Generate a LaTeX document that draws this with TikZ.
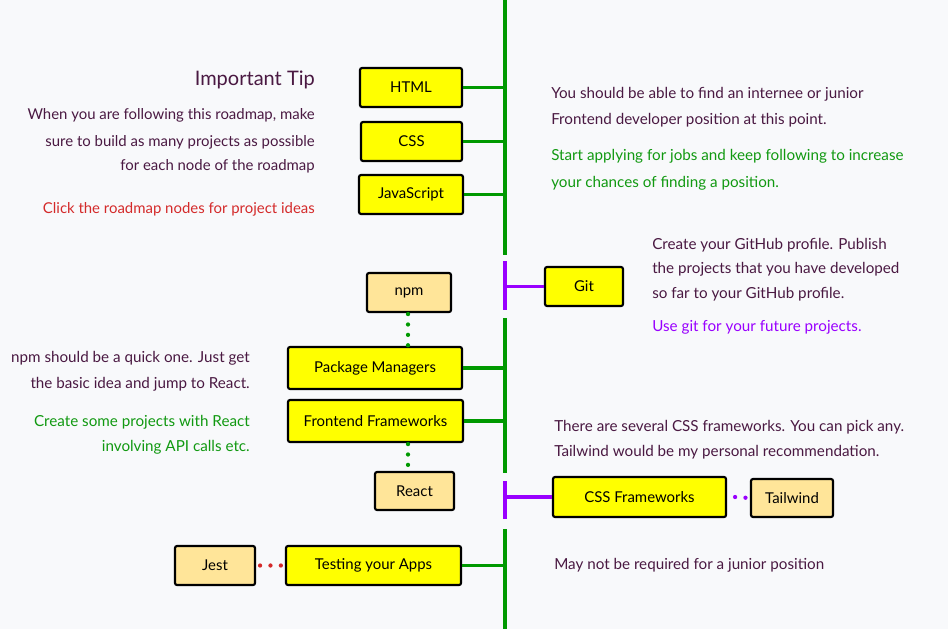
\documentclass[tikz,border=0pt]{standalone}
\usepackage{fontspec}
\setmainfont{Lato}
\begin{document}
\begin{tikzpicture}[x=0.75pt,y=-0.75pt,
  bg/.style={fill=bgc,draw=none},
  topic/.style={draw=black,line width=1.6pt,fill=yel,rounded corners=1.5pt,inner sep=0pt,font=\fontsize{11.2pt}{12pt}\selectfont,text=black},
  subtopic/.style={topic,fill=lor},
  gline/.style={draw=lgreen,line width=2.3pt},
  pline/.style={draw=lpurple,line width=2.3pt},
  dotline/.style={line width=3.2pt,line cap=round,dash pattern=on 0pt off 7.8pt},
  txt/.style={inner sep=0pt,font=\fontsize{11.4pt}{13pt}\selectfont,text=dtext},
  ltxt/.style={txt,font=\fontsize{11.2pt}{13pt}\selectfont},
]
\definecolor{bgc}{HTML}{F8F9FB}
\definecolor{yel}{HTML}{FFFF00}
\definecolor{lor}{HTML}{FFE599}
\definecolor{lgreen}{HTML}{009900}
\definecolor{lpurple}{HTML}{9900FF}
\definecolor{dtext}{HTML}{4A1942}
\definecolor{tred}{HTML}{D42A2A}
\definecolor{tgreen}{HTML}{119911}
\definecolor{tpurple}{HTML}{9900FF}
\path[bg] (0,0) rectangle (948,629);
\useasboundingbox (0,0) rectangle (948,629);

% spine
\coordinate (s0) at (505,0);
\coordinate (s1) at (505,255);
\coordinate (s2) at (505,261);
\coordinate (s3) at (505,310);
\coordinate (s4) at (505,318);
\coordinate (s5) at (505,473);
\coordinate (s6) at (505,481);
\coordinate (s7) at (505,519);
\coordinate (s8) at (505,529);
\coordinate (s9) at (505,629);
\draw[gline] (s0) -- (s1);
\draw[pline] (s2) -- (s3);
\draw[gline] (s4) -- (s5);
\draw[pline] (s6) -- (s7);
\draw[gline] (s8) -- (s9);

% nodes
\node[topic,minimum width=102*0.75pt,minimum height=39*0.75pt] (html) at (411,87.5) {HTML};
\node[topic,minimum width=101*0.75pt,minimum height=39*0.75pt] (css) at (411.5,141.5) {CSS};
\node[topic,minimum width=104*0.75pt,minimum height=39*0.75pt] (js) at (411,194.5) {JavaScript};
\node[topic,minimum width=78*0.75pt,minimum height=39*0.75pt] (git) at (584,286.5) {Git};
\node[subtopic,minimum width=84*0.75pt,minimum height=39*0.75pt] (npm) at (409,292.5) {npm};
\node[topic,minimum width=174*0.75pt,minimum height=42*0.75pt] (pm) at (375,368) {Package Managers};
\node[topic,minimum width=175*0.75pt,minimum height=42*0.75pt] (ff) at (375.5,421) {Frontend Frameworks};
\node[subtopic,minimum width=79*0.75pt,minimum height=38*0.75pt] (react) at (414.5,491) {React};
\node[topic,minimum width=173*0.75pt,minimum height=40*0.75pt] (cssf) at (639.5,497) {CSS Frameworks};
\node[subtopic,minimum width=82*0.75pt,minimum height=38*0.75pt] (tw) at (792,498) {Tailwind};
\node[subtopic,minimum width=80*0.75pt,minimum height=39*0.75pt] (jest) at (215,565.5) {Jest};
\node[topic,minimum width=175*0.75pt,minimum height=39*0.75pt] (test) at (373.5,565.5) {Testing your Apps};

% connectors
\draw[gline] (html.east) -- (html.east -| s0);
\draw[gline] (css.east) -- (css.east -| s0);
\draw[gline] (js.east) -- (js.east -| s0);
\draw[pline] (git.west -| s0) -- (git.west);
\draw[gline] (pm.east) -- (pm.east -| s0);
\draw[gline] (ff.east) -- (ff.east -| s0);
\draw[pline] (cssf.west -| s0) -- (cssf.west);
\draw[gline] (test.east) -- (test.east -| s0);
\draw[dotline,lgreen] ([xshift=-0.75pt,yshift=-0.75pt]npm.south) -- ([xshift=-0.75pt]npm.south |- pm.north);
\draw[dotline,lgreen] ([xshift=-0.75pt,yshift=-0.75pt]npm.south |- ff.south) -- ([xshift=-0.75pt]npm.south |- react.north);
\draw[dotline,lpurple] ([xshift=6pt]cssf.east) -- (tw.west);
\draw[dotline,tred] ([xshift=3pt]jest.east) -- (test.west);

% texts
\node[txt,anchor=east,font=\fontsize{15pt}{17pt}\selectfont] (tiptitle) at (315,80) {Important Tip};
\node[ltxt,anchor=east] (tip1) at (315,115) {When you are following this roadmap, make};
\node[ltxt,anchor=east] (tip2) at (315,142) {sure to build as many projects as possible};
\node[ltxt,anchor=east] (tip3) at (315,166) {for each node of the roadmap};
\node[ltxt,anchor=east,text=tred] (tip4) at (315,209) {Click the roadmap nodes for project ideas};

\node[txt,anchor=west] (r1) at (551,94.5) {You should be able to find an internee or junior};
\node[txt,anchor=west] (r2) at (551,120.5) {Frontend developer position at this point.};
\node[txt,anchor=west,text=tgreen] (r3) at (551,156.5) {Start applying for jobs and keep following to increase};
\node[txt,anchor=west,text=tgreen] (r4) at (551,183.5) {your chances of finding a position.};

\node[txt,anchor=west] (g1) at (652,245) {Create your GitHub profile. Publish};
\node[txt,anchor=west] (g2) at (652,269.5) {the projects that you have developed};
\node[txt,anchor=west] (g3) at (652,294.5) {so far to your GitHub profile.};
\node[txt,anchor=west,text=tpurple] (g4) at (652,327) {Use git for your future projects.};

\node[txt,anchor=east] (n1) at (250,358) {npm should be a quick one. Just get};
\node[txt,anchor=east] (n2) at (250,384) {the basic idea and jump to React.};
\node[txt,anchor=east,text=tgreen] (n3) at (250,422) {Create some projects with React};
\node[txt,anchor=east,text=tgreen] (n4) at (250,447) {involving API calls etc.};

\node[txt,anchor=west] (c1) at (554,427) {There are several CSS frameworks. You can pick any.};
\node[txt,anchor=west] (c2) at (554,452) {Tailwind would be my personal recommendation.};

\node[txt,anchor=west] (t1) at (554,565.5) {May not be required for a junior position};
\end{tikzpicture}
\end{document}
